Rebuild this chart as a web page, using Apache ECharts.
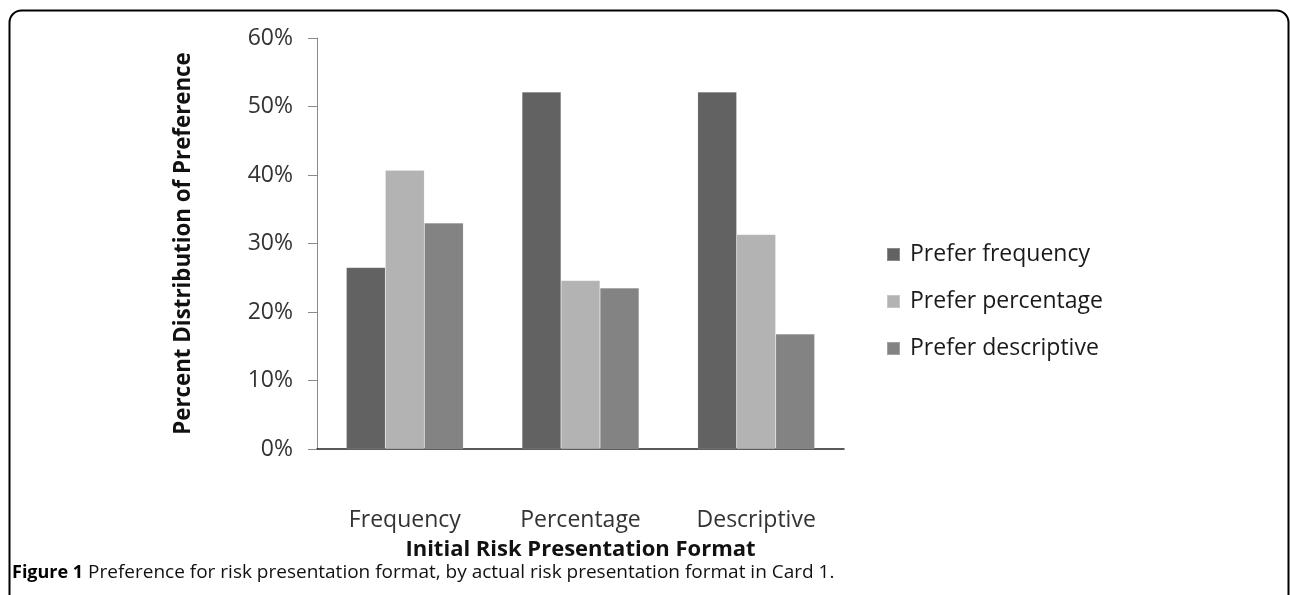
<!DOCTYPE html>
<html>
<head>
<meta charset="utf-8">
<title>Preference for risk presentation format</title>
<script src="https://cdn.jsdelivr.net/npm/echarts@6/dist/echarts.min.js"></script>
<style>
  html, body { margin: 0; padding: 0; background: #fff; }
  #chart { width: 1290px; height: 595px; }
</style>
</head>
<body>
<div id="chart"></div>
<script>
// Initial format shown on Card 1
const categories = ['Frequency', 'Percentage', 'Descriptive'];

// Share (%) of respondents preferring each format
const preferFrequency   = [26.5, 52.1, 52.1];
const preferPercentage  = [40.7, 24.6, 31.3];
const preferDescriptive = [33.0, 23.5, 16.8];

const seriesNames = ['Prefer frequency', 'Prefer percentage', 'Prefer descriptive'];
const seriesColors = ['#626262', '#b3b3b3', '#838383'];

const yTicks = [0, 10, 20, 30, 40, 50, 60];

const caption = 'Preference for risk presentation format, by actual risk presentation format in Card 1';

const FONT = '"Open Sans", "Noto Sans", sans-serif';

const chart = echarts.init(document.getElementById('chart'), null, { renderer: 'canvas' });

const values = [preferFrequency, preferPercentage, preferDescriptive];

chart.setOption({
  animation: false,
  backgroundColor: '#ffffff',
  textStyle: { fontFamily: FONT },
  grid: { left: 317, top: 38, right: 446, bottom: 146, containLabel: false },
  legend: {
    orient: 'vertical',
    left: 881,
    top: 238,
    itemWidth: 13,
    itemHeight: 13,
    itemGap: 24,
    icon: 'rect',
    textStyle: { fontFamily: FONT, fontSize: 23, color: '#1a1a1a', padding: [0, 0, 0, 5] },
    data: seriesNames
  },
  xAxis: {
    type: 'category',
    data: categories,
    name: 'Initial Risk Presentation Format',
    nameLocation: 'middle',
    nameGap: 90,
    nameTextStyle: { fontFamily: FONT, fontSize: 22, fontWeight: 'bold', color: '#111' },
    axisLine: { lineStyle: { color: '#222', width: 1.5 } },
    axisTick: { show: false },
    axisLabel: { fontFamily: FONT, fontSize: 23, color: '#333', margin: 60 }
  },
  yAxis: {
    type: 'value',
    min: yTicks[0],
    max: yTicks[yTicks.length - 1],
    interval: 10,
    name: 'Percent Distribution of Preference',
    nameLocation: 'middle',
    nameGap: 122,
    nameTextStyle: { fontFamily: FONT, fontSize: 22.3, fontWeight: 'bold', color: '#111' },
    axisLine: { show: true, lineStyle: { color: '#8a8a8a', width: 1 } },
    axisTick: { show: true, inside: false, length: 9, lineStyle: { color: '#8a8a8a' } },
    splitLine: { show: false },
    axisLabel: { fontFamily: FONT, fontSize: 23, color: '#333', margin: 24, formatter: '{value}%' }
  },
  series: seriesNames.map((name, i) => ({
    name: name,
    type: 'bar',
    data: values[i],
    barWidth: 39,
    barGap: '0%',
    itemStyle: { color: seriesColors[i], borderColor: 'rgba(255,255,255,0.25)', borderWidth: 0.5 }
  })),
  graphic: [
    {
      type: 'rect',
      shape: { x: 9.5, y: 10.5, width: 1279, height: 800, r: 12 },
      style: { fill: 'none', stroke: '#000', lineWidth: 2 },
      silent: true
    },
    {
      type: 'text',
      left: 12,
      top: 563,
      style: {
        text: '{b|Figure 1} {r|' + caption + '.}',
        rich: {
          b: { fontFamily: FONT, fontSize: 18, fontWeight: 'bold', fill: '#000' },
          r: { fontFamily: FONT, fontSize: 19, fontWeight: 'normal', fill: '#111' }
        },
        fontFamily: FONT,
        fontSize: 19,
        fill: '#111'
      }
    }
  ]
});
</script>
</body>
</html>
